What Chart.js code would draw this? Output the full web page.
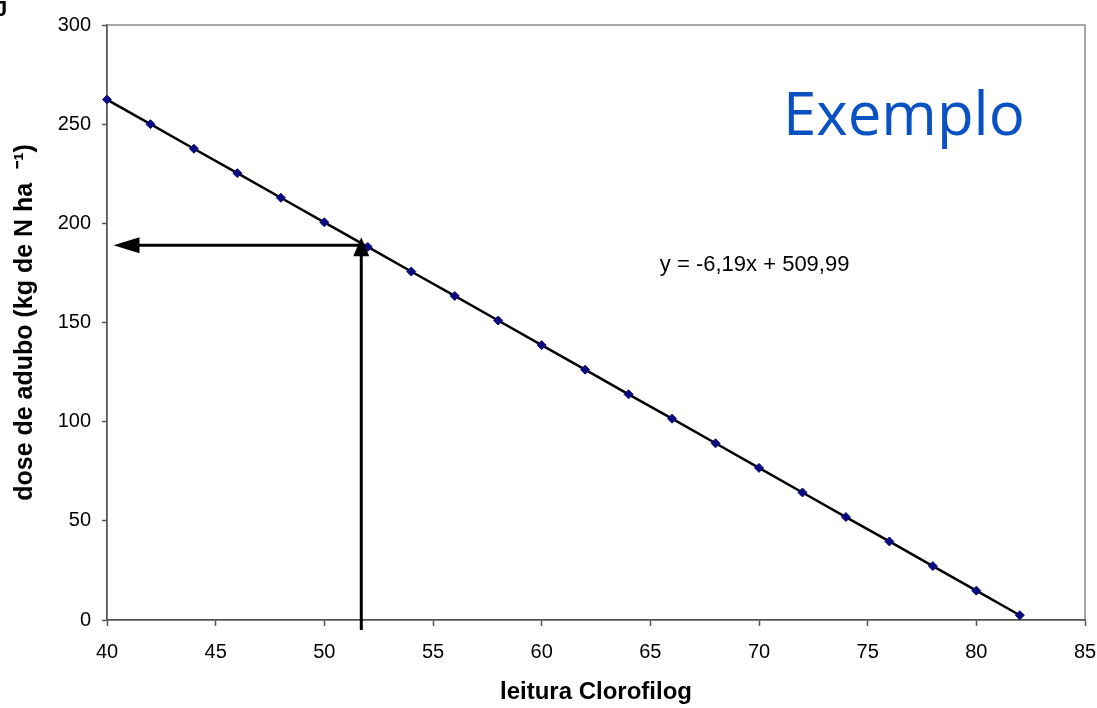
<!DOCTYPE html>
<html>
<head>
<meta charset="utf-8">
<script src="https://cdn.jsdelivr.net/npm/chart.js@4"></script>
<style>
  html, body { margin: 0; padding: 0; background: #fff; }
  #wrap { position: relative; width: 1097px; height: 708px; }
</style>
</head>
<body>
<div id="wrap"><canvas id="c"></canvas></div>
<script>
// ---- data ----
const leitura = [40, 42, 44, 46, 48, 50, 52, 54, 56, 58, 60, 62, 64, 66, 68, 70, 72, 74, 76, 78, 80, 82];
const dose = [262.4, 250.0, 237.6, 225.3, 212.9, 200.5, 188.1, 175.7, 163.4, 151.0, 138.6,
              126.2, 113.8, 101.5, 89.1, 76.7, 64.3, 51.9, 39.6, 27.2, 14.8, 2.4];
const xTicksRange = [40, 85];
const yTicksRange = [0, 300];
const arrowLeitura = [51.7];   // vertical arrow x (leitura)
const arrowDose = [189];       // horizontal arrow y (dose)
const arrowEndX = [40.3];      // tip of the horizontal arrow
const equationText = "y = -6,19x + 509,99";
const equationPos = [69.8, 179];
const stampText = "Exemplo";
const stampPos = [71.1, 244.5];
const xTitle = "leitura Clorofilog";
const yTitle = "dose de adubo (kg de N ha  \u207B\u00B9)";

const decor = {
  id: 'decor',
  beforeDraw(chart) {
    const {ctx, chartArea: a} = chart;
    ctx.save();
    ctx.strokeStyle = '#8c8c8c';
    ctx.lineWidth = 1.5;
    ctx.strokeRect(a.left, a.top, a.right - a.left, a.bottom - a.top);
    // cropped glyph at top-left corner
    ctx.fillStyle = '#000';
    ctx.font = 'bold 22px "Liberation Sans"';
    ctx.textBaseline = 'alphabetic';
    ctx.fillText('J', -5, 16);
    ctx.restore();
  },
  afterDatasetsDraw(chart) {
    const {ctx, chartArea: a, scales: {x, y}} = chart;
    const ax = x.getPixelForValue(arrowLeitura[0]);
    const ay = y.getPixelForValue(arrowDose[0]);
    const ex = x.getPixelForValue(arrowEndX[0]);
    ctx.save();
    ctx.strokeStyle = '#000';
    ctx.fillStyle = '#000';
    ctx.lineWidth = 3;
    // vertical line
    ctx.beginPath();
    ctx.moveTo(ax, a.bottom + 10);
    ctx.lineTo(ax, ay + 8);
    ctx.stroke();
    // vertical arrow head
    ctx.beginPath();
    ctx.moveTo(ax, ay - 8);
    ctx.lineTo(ax - 8, ay + 11);
    ctx.lineTo(ax + 8, ay + 11);
    ctx.closePath();
    ctx.fill();
    // horizontal line
    ctx.beginPath();
    ctx.moveTo(ax, ay);
    ctx.lineTo(ex + 20, ay);
    ctx.stroke();
    // horizontal arrow head
    ctx.beginPath();
    ctx.moveTo(ex, ay);
    ctx.lineTo(ex + 26, ay - 8);
    ctx.lineTo(ex + 26, ay + 8);
    ctx.closePath();
    ctx.fill();

    // equation
    ctx.font = '22px "Liberation Sans"';
    ctx.textAlign = 'center';
    ctx.textBaseline = 'middle';
    ctx.fillStyle = '#000';
    ctx.fillText(equationText, x.getPixelForValue(equationPos[0]), y.getPixelForValue(equationPos[1]));

    // Exemplo stamp
    ctx.font = '60px "Open Sans"';
    ctx.textAlign = 'left';
    ctx.textBaseline = 'alphabetic';
    ctx.fillStyle = '#0a52c2';
    ctx.fillText(stampText, x.getPixelForValue(stampPos[0]), y.getPixelForValue(stampPos[1]));
    ctx.restore();
  }
};

new Chart(document.getElementById('c'), {
  type: 'scatter',
  data: {
    datasets: [{
      data: leitura.map((v, i) => ({x: v, y: dose[i]})),
      showLine: true,
      borderColor: '#000',
      borderWidth: 2.5,
      pointStyle: 'rectRot',
      pointRadius: 4.5,
      pointBackgroundColor: '#0a0a80',
      pointBorderColor: '#0a0a80',
      pointBorderWidth: 1,
      clip: false
    }]
  },
  options: {
    responsive: true,
    maintainAspectRatio: false,
    animation: false,
    layout: { padding: { top: 25, right: 0, left: 0, bottom: 0 } },
    plugins: { legend: { display: false }, tooltip: { enabled: false } },
    scales: {
      x: {
        type: 'linear',
        min: xTicksRange[0], max: xTicksRange[1],
        afterFit(s) { s.height = 88; s.paddingRight = 12; s.paddingLeft = 0; },
        ticks: { stepSize: 5, color: '#000', padding: 14, font: { family: 'Liberation Sans', size: 20 } },
        grid: { display: true, drawOnChartArea: false, drawTicks: true, tickLength: 6, color: '#555', tickWidth: 1.5 },
        border: { display: true, color: '#555', width: 1.5 },
        title: { display: true, text: xTitle, color: '#000', padding: { top: 0, bottom: 1 },
                 font: { family: 'Liberation Sans', size: 24, weight: 'bold' } }
      },
      y: {
        min: yTicksRange[0], max: yTicksRange[1],
        afterFit(s) { s.width = 107; },
        ticks: { stepSize: 50, color: '#000', padding: 11, font: { family: 'Liberation Sans', size: 20 } },
        grid: { display: true, drawOnChartArea: false, drawTicks: true, tickLength: 5, color: '#555', tickWidth: 1.5 },
        border: { display: true, color: '#555', width: 1.5 },
        title: { display: true, text: yTitle, color: '#000', padding: { top: 10, bottom: 0 },
                 font: { family: 'Liberation Sans', size: 25, weight: 'bold' } }
      }
    }
  },
  plugins: [decor]
});
</script>
</body>
</html>
